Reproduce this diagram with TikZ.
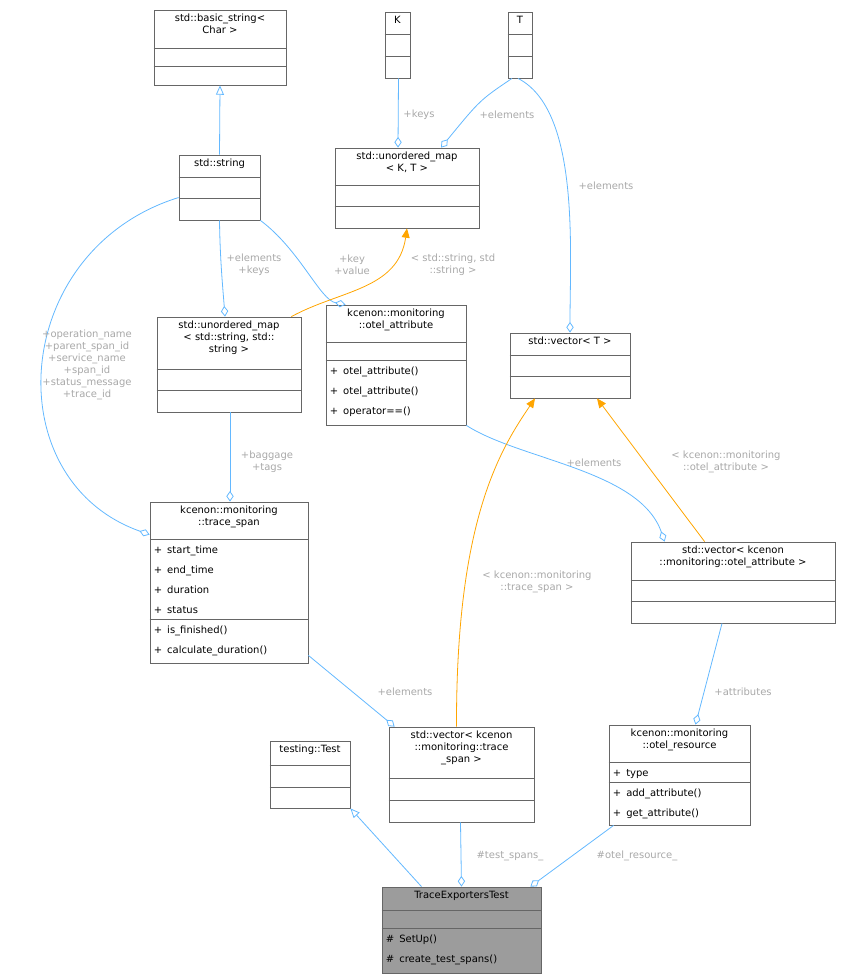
\documentclass[tikz,border=0pt]{standalone}
\usepackage{fontspec}
\setmainfont{DejaVu Sans}
\usetikzlibrary{calc, fit, positioning, arrows.meta}
\definecolor{edgeblue}{HTML}{63B8FF}
\definecolor{edgeorange}{HTML}{FFA500}
\definecolor{lblgray}{HTML}{A8A8A8}
\definecolor{boxgray}{HTML}{666666}
\tikzset{
    cls/.style={rectangle, draw=boxgray, inner sep=0pt, line width=0.6pt},
    cls_line/.style={draw=boxgray, line width=0.6pt},
    cls_title/.style={anchor=north, align=center, inner sep=3pt, font=\fontsize{7.5}{9}\selectfont},
    cls_members/.style={anchor=north west, align=left, inner sep=0pt, font=\fontsize{7.5}{15}\selectfont},
    lbl/.style={align=center, text=lblgray, inner sep=0pt, font=\fontsize{7.5}{9}\selectfont},
    member_arrow/.style={edgeblue, line width=0.6pt, -{Diamond[open, length=8pt, width=5.5pt]}},
    inherit_arrow/.style={edgeblue, line width=0.6pt, -{Triangle[open, length=7pt, width=6pt]}},
    templ_arrow/.style={edgeorange, line width=0.6pt, -{Triangle[length=7pt, width=6pt]}},
}
% name, (l,t), (r,b), sep1, sep2, title, attributes, methods, fill
\newcommand\classbox[9]{%
  \node[cls, fill=#9, fit={(#2) (#3)}] (#1) {};
  \draw[cls_line] (#1.west |- 0,#4) -- (#1.east |- 0,#4);
  \draw[cls_line] (#1.west |- 0,#5) -- (#1.east |- 0,#5);
  \node[cls_title] (#1_title) at (#1.north) {#6};
  \node[cls_members] (#1_attr) at ($(#1.west |- 0,#4)+(4,7)$) {#7};
  \node[cls_members] (#1_meth) at ($(#1.west |- 0,#5)+(4,7)$) {#8};
}
\begin{document}
\begin{tikzpicture}[x=0.75pt, y=-0.75pt]
  \useasboundingbox (0,0) rectangle (841,979);
  % classes
  \classbox{bstr}{154,10}{286,85}{48}{66}{std::basic\_string<\\Char >}{}{}{white}
  \classbox{k}{385,12}{410,78}{34}{56}{K}{}{}{white}
  \classbox{t}{508,12}{532,78}{34}{56}{T}{}{}{white}
  \classbox{str}{179,155}{260,220}{177}{198}{std::string}{}{}{white}
  \classbox{umap}{335,148}{479,228}{185}{206}{std::unordered\_map\\< K, T >}{}{}{white}
  \classbox{umap_str}{157,317}{301,412}{369}{390}{std::unordered\_map\\< std::string, std::\\string >}{}{}{white}
  \classbox{attr}{326,305}{466,425}{342}{360}{kcenon::monitoring\\::otel\_attribute}{}{+\enspace otel\_attribute()\\+\enspace otel\_attribute()\\+\enspace operator==()}{white}
  \classbox{vec}{510,333}{630,398}{355}{376}{std::vector< T >}{}{}{white}
  \classbox{span}{150,502}{308,663}{539}{619}{kcenon::monitoring\\::trace\_span}{+\enspace start\_time\\+\enspace end\_time\\+\enspace duration\\+\enspace status}{+\enspace is\_finished()\\+\enspace calculate\_duration()}{white}
  \classbox{vec_attr}{631,542}{835,623}{580}{601}{std::vector< kcenon\\::monitoring::otel\_attribute >}{}{}{white}
  \classbox{test}{270,741}{350,808}{765}{787}{testing::Test}{}{}{white}
  \classbox{vec_span}{389,727}{534,822}{778}{800}{std::vector< kcenon\\::monitoring::trace\\\_span >}{}{}{white}
  \classbox{res}{609,725}{750,825}{762}{782}{kcenon::monitoring\\::otel\_resource}{+\enspace type}{+\enspace add\_attribute()\\+\enspace get\_attribute()}{white}
  \classbox{tet}{382,887}{541,973}{910}{928}{TraceExportersTest}{}{\#\enspace SetUp()\\\#\enspace create\_test\_spans()}{boxgray!65}

  % connectors
  \draw[inherit_arrow] (str.north) -- (bstr.south);
  \draw[member_arrow] ($(k.south)+(1,0)$) -- ($(umap.north)+(-9,0)$);
  \draw[member_arrow] ($(t.south)+(-8,0)$) .. controls (480,100) .. ($(umap.north)+(34,0)$);
  \draw[member_arrow] ($(t.south)+(-2,0)$) .. controls (580,110) and (570,250) .. (vec.north);
  \draw[member_arrow] (str.south) .. controls (220,260) and (223,290) .. ($(umap_str.north)+(-4,0)$);
  \draw[member_arrow] (str.south east) .. controls (300,250) and (320,300) .. ($(attr.north west)+(20,0)$);
  \draw[member_arrow] ($(str.west)+(0,10)$) .. controls (10,250) and (-5,480) .. ($(span.north west)+(0,33)$);
  \draw[templ_arrow] ($(umap_str.north east)+(-10,0)$) .. controls (340,290) and (398,290) .. (umap.south);
  \draw[member_arrow] ($(umap_str.south)+(1,0)$) -- ($(span.north)+(1,0)$);
  \draw[member_arrow] (attr.south east) .. controls (520,460) and (640,470) .. ($(vec_attr.north west)+(34,0)$);
  \draw[templ_arrow] ($(vec_attr.north west)+(74,0)$) -- ($(vec.south)+(27,0)$);
  \draw[member_arrow] ($(span.south east)+(0,-8)$) -- ($(vec_span.north west)+(6,0)$);
  \draw[templ_arrow] ($(vec_span.north)+(-5,0)$) .. controls (456,520) and (500,450) .. ($(vec.south)+(-35,0)$);
  \draw[member_arrow] ($(vec_attr.south)+(-11,0)$) -- ($(res.north)+(16,0)$);
  \draw[inherit_arrow] ($(tet.north)+(-40,0)$) -- (test.south east);
  \draw[member_arrow] ($(vec_span.south)+(-1,0)$) -- ($(tet.north)+(0,0)$);
  \draw[member_arrow] ($(res.south west)+(5,0)$) -- ($(tet.north east)+(-11,0)$);

  % labels
  \node[lbl] (l_keys) at (419,115) {+keys};
  \node[lbl] (l_elem_t) at (507,115) {+elements};
  \node[lbl] (l_elem_v) at (606,186) {+elements};
  \node[lbl] (l_ek) at (254,265) {+elements\\+keys};
  \node[lbl] (l_kv) at (352,265) {+key\\+value};
  \node[lbl] (l_tmpl_str) at (453,265) {< std::string, std\\::string >};
  \node[lbl] (l_span) at (87,365) {+operation\_name\\+parent\_span\_id\\+service\_name\\+span\_id\\+status\_message\\+trace\_id};
  \node[lbl] (l_bag) at (267,462) {+baggage\\+tags};
  \node[lbl] (l_elem_a) at (594,463) {+elements};
  \node[lbl] (l_tmpl_attr) at (726,462) {< kcenon::monitoring\\::otel\_attribute >};
  \node[lbl] (l_tmpl_span) at (537,582) {< kcenon::monitoring\\::trace\_span >};
  \node[lbl] (l_elem_s) at (405,692) {+elements};
  \node[lbl] (l_attrs) at (743,692) {+attributes};
  \node[lbl] (l_spans) at (510,856) {\#test\_spans\_};
  \node[lbl] (l_res) at (637,856) {\#otel\_resource\_};
\end{tikzpicture}
\end{document}
